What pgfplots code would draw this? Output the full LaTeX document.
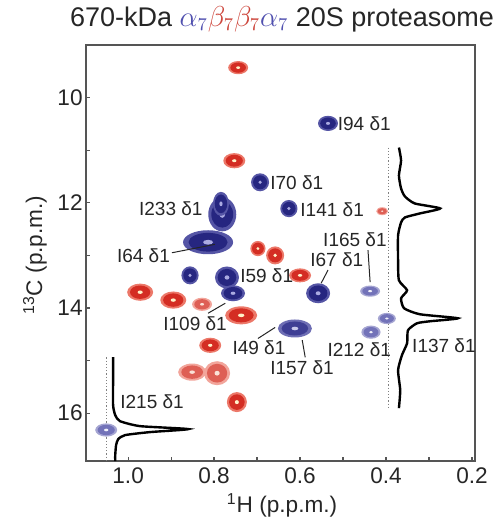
\documentclass[border=0pt]{standalone}
\usepackage{fontspec}
\setmainfont{Liberation Sans}
\usepackage{pgfplots}
\pgfplotsset{compat=1.18}

\definecolor{redrim}{RGB}{236,120,105}
\definecolor{redmain}{RGB}{212,45,35}
\definecolor{redcore}{RGB}{255,240,200}
\definecolor{palerim}{RGB}{242,165,155}
\definecolor{palemain}{RGB}{222,95,85}
\definecolor{palecore}{RGB}{250,225,215}
\definecolor{navyrim}{RGB}{85,85,165}
\definecolor{navymain}{RGB}{38,38,128}
\definecolor{navycore}{RGB}{170,170,225}
\definecolor{midrim}{RGB}{110,110,180}
\definecolor{midmain}{RGB}{62,62,148}
\definecolor{midcore}{RGB}{200,200,235}
\definecolor{ltrim}{RGB}{165,165,210}
\definecolor{ltmain}{RGB}{115,115,185}
\definecolor{ltcore}{RGB}{240,240,250}
\definecolor{axgray}{RGB}{85,85,85}
\definecolor{alphablue}{RGB}{80,80,175}
\definecolor{betared}{RGB}{205,70,60}

% contour-like peak: rim, body, centre
\newcommand\peakmark[4]{%
  \pgfdeclareplotmark{#1}{%
    \pgfpathellipse{\pgfpointorigin}{\pgfpoint{\pkrx pt}{0pt}}{\pgfpoint{0pt}{\pkry pt}}%
    \pgfsetfillcolor{#2}\pgfusepathqfill
    \pgfpathellipse{\pgfpointorigin}{\pgfpoint{0.78*\pkrx pt}{0pt}}{\pgfpoint{0pt}{0.78*\pkry pt}}%
    \pgfsetfillcolor{#3}\pgfusepathqfill
    \pgfpathellipse{\pgfpointorigin}{\pgfpoint{0.2*\pkrx pt}{0pt}}{\pgfpoint{0pt}{0.2*\pkry pt}}%
    \pgfsetfillcolor{#4}\pgfusepathqfill}}
\peakmark{redpk}{redrim}{redmain}{redcore}
\peakmark{palepk}{palerim}{palemain}{palecore}
\peakmark{navypk}{navyrim}{navymain}{navycore}
\peakmark{midpk}{midrim}{midmain}{midcore}
\peakmark{ltpk}{ltrim}{ltmain}{ltcore}

\pgfplotsset{
  peaks/.style={only marks, scatter, mark=#1,
    visualization depends on={value \thisrow{rx}\as\pkrx},
    visualization depends on={value \thisrow{ry}\as\pkry},
    scatter/@pre marker code/.code={},
    scatter/@post marker code/.code={}},
}
\tikzset{lbl/.style={font=\fontsize{9.5}{11}\selectfont, inner sep=0pt, text=black!85}}

\begin{document}
\begin{tikzpicture}
\begin{axis}[
    scale only axis,
    width=194.5pt, height=208pt,
    xmin=0.193, xmax=1.098,
    ymin=9, ymax=16.91,
    x dir=reverse, y dir=reverse,
    clip mode=individual,
    xtick={0.2,0.4,0.6,0.8,1.0},
    minor xtick={0.3,0.5,0.7,0.9},
    ytick={10,12,14,16},
    minor ytick={11,13,15},
    tick pos=left,
    tick align=inside,
    major tick length=2pt, minor tick length=2pt,
    every tick/.style={axgray, line width=0.6pt},
    axis line style={axgray, line width=0.9pt},
    /pgf/number format/assume math mode=true,
    tick label style={font=\fontsize{11.3}{13}\selectfont, text=black!85},
    xticklabel style={/pgf/number format/.cd, fixed, fixed zerofill, precision=1},
    yticklabel style={inner sep=1.5pt},
    xlabel={\textsuperscript{1}H (p.p.m.)},
    ylabel={\textsuperscript{13}C (p.p.m.)},
    label style={font=\fontsize{11.3}{13}\selectfont, text=black!85},
    xlabel style={at={(axis description cs:0.504,-0.106)}, anchor=center},
    ylabel style={at={(axis description cs:-0.131,0.495)}, anchor=center},
    title={670-kDa {\color{alphablue}$\alpha_7$}{\color{betared}$\beta_7\beta_7$}{\color{alphablue}$\alpha_7$} 20S proteasome},
    every axis title/.style={at={(axis description cs:0.504,1.0625)}, anchor=center, inner sep=0pt,
                 font=\fontsize{13.5}{15}\selectfont, text=black!85},
]

% reference 1D traces and their dotted baselines
\addplot[gray, densely dotted, line width=0.6pt] coordinates {(0.395,10.95) (0.395,15.90)};
\addplot[gray, densely dotted, line width=0.6pt] coordinates {(1.051,14.94) (1.051,16.91)};

\addplot[black, line width=1.2pt, smooth, tension=0.35] coordinates {
  (0.370,10.949) (0.365,11.196) (0.370,11.481) (0.365,11.728) (0.356,11.880)
  (0.333,12.013) (0.274,12.107) (0.321,12.202) (0.356,12.278) (0.365,12.373)
  (0.372,12.620) (0.372,13.095) (0.370,13.474) (0.351,13.664) (0.365,13.816)
  (0.358,14.006) (0.321,14.120) (0.233,14.196) (0.298,14.253) (0.328,14.291)
  (0.349,14.424) (0.351,14.671) (0.363,14.898) (0.372,15.183) (0.367,15.563)
  (0.370,15.905)
};
\addplot[black, line width=1.2pt, smooth, tension=0.35] coordinates {
  (1.035,14.936) (1.035,15.373) (1.035,15.848) (1.030,16.038) (1.019,16.152)
  (0.972,16.247) (0.860,16.303) (0.949,16.360) (1.007,16.417) (1.023,16.493)
  (1.028,16.607) (1.030,16.797) (1.030,16.911)
};

% peaks: x y (ppm), half axes rx ry (pt)
\addplot[peaks=redpk] table {
x y rx ry
0.744 9.43 5.0 3.3
0.753 11.20 5.5 3.8
0.972 13.70 6.5 4.3
0.895 13.85 6.5 4.3
0.737 14.14 8.0 4.5
0.809 14.71 5.5 3.8
0.747 15.79 5.0 5.0
0.698 12.87 3.8 3.8
0.658 13.00 4.5 4.5
0.600 13.38 5.5 3.5
};
\addplot[peaks=palepk] table {
x y rx ry
0.828 13.93 5.0 3.3
0.851 15.22 7.0 4.3
0.793 15.24 6.5 6.0
0.409 12.16 3.0 2.0
};
\addplot[peaks=navypk] table {
x y rx ry
0.535 10.49 5.0 3.8
0.693 11.61 4.5 4.5
0.626 12.11 4.3 4.3
0.781 12.22 7.0 8.5
0.784 12.02 4.0 6.0
0.814 12.75 12.5 6.0
0.856 13.38 4.3 4.5
0.770 13.42 6.0 5.5
0.756 13.72 6.0 4.0
0.558 13.72 6.0 5.0
};
\addplot[peaks=midpk] table {
x y rx ry
0.612 14.39 8.5 4.5
};
\addplot[peaks=ltpk] table {
x y rx ry
0.437 13.68 5.0 2.8
0.398 14.20 4.5 2.8
0.435 14.46 4.8 3.3
1.051 16.32 5.5 3.3
};

% leader lines
\addplot[black!85, line width=0.5pt] coordinates {(0.898,12.95) (0.798,12.79)};
\addplot[black!85, line width=0.5pt] coordinates {(0.535,13.28) (0.551,13.53)};
\addplot[black!85, line width=0.5pt] coordinates {(0.442,12.90) (0.437,13.51)};
\addplot[black!85, line width=0.5pt] coordinates {(0.814,14.10) (0.774,13.91)};
\addplot[black!85, line width=0.5pt] coordinates {(0.698,14.58) (0.658,14.37)};
\addplot[black!85, line width=0.5pt] coordinates {(0.595,14.61) (0.588,14.94)};

% labels
\node[lbl, anchor=west] at (axis cs:0.513,10.49) {I94 δ1};
\node[lbl, anchor=west] at (axis cs:0.670,11.61) {I70 δ1};
\node[lbl, anchor=west] at (axis cs:0.600,12.13) {I141 δ1};
\node[lbl, anchor=east] at (axis cs:0.826,12.11) {I233 δ1};
\node[lbl, anchor=east] at (axis cs:0.902,13.00) {I64 δ1};
\node[lbl, anchor=west] at (axis cs:0.740,13.38) {I59 δ1};
\node[lbl, anchor=west] at (axis cs:0.577,13.09) {I67 δ1};
\node[lbl, anchor=west] at (axis cs:0.547,12.70) {I165 δ1};
\node[lbl, anchor=west] at (axis cs:0.919,14.29) {I109 δ1};
\node[lbl, anchor=west] at (axis cs:0.758,14.75) {I49 δ1};
\node[lbl, anchor=west] at (axis cs:0.670,15.13) {I157 δ1};
\node[lbl, anchor=west] at (axis cs:0.537,14.80) {I212 δ1};
\node[lbl, anchor=west] at (axis cs:0.340,14.71) {I137 δ1};
\node[lbl, anchor=west] at (axis cs:1.019,15.79) {I215 δ1};

\coordinate (bbsw) at (axis description cs:-0.2211,-0.1418);
\coordinate (bbne) at (axis description cs:1.0668,1.1082);
\end{axis}
\pgfresetboundingbox
\path[use as bounding box] (bbsw) rectangle (bbne);
\end{tikzpicture}
\end{document}
